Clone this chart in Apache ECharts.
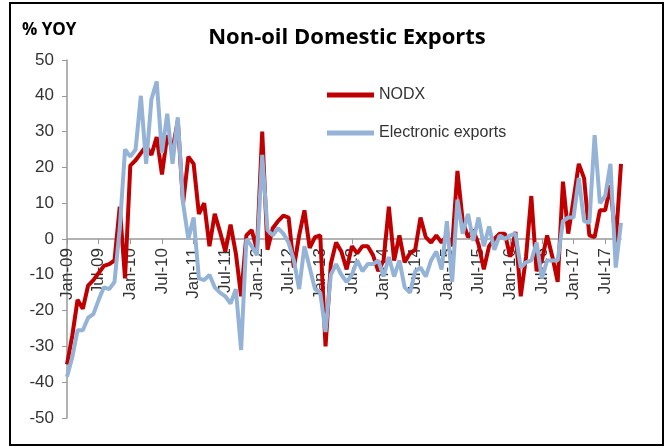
<!DOCTYPE html>
<html>
<head>
<meta charset="utf-8">
<script src="https://cdn.jsdelivr.net/npm/echarts@6/dist/echarts.min.js"></script>
<style>
  html, body { margin: 0; padding: 0; background: #fff; }
  #chart { width: 669px; height: 446px; }
</style>
</head>
<body>
<div id="chart"></div>
<script>
// Monthly year-on-year growth, Jan-09 to Oct-17
const monthNames = ['Jan','Feb','Mar','Apr','May','Jun','Jul','Aug','Sep','Oct','Nov','Dec'];
const firstYear = 2009;
const monthCount = 106;

const nodx = [
  -35, -27, -17, -19.5, -13, -11.5, -9.5, -7.5, -7, -6, 9, -11,
  20.5, 22, 24, 26, 23.5, 28.5, 18, 29, 25, 33, 10, 23,
  21, 7, 10, -2, 7, 2, -3.5, 4, -4, -16, 1, 2.5,
  -3, 30, -3, 3, 5, 6.5, 6, -8, 1, 8, -2.5, 0.5,
  1, -30, -7, -1, -3.5, -8.5, -2, -4, -2, -2, -4.5, -9,
  -6, 9, -6, 1, -6.5, -4, -3, 6, 0.5, -1, 1, -1,
  1, -2, 19, 5, 0.5, 2.5, -1.5, -8.5, -2, 0, 1.5, 1.5,
  -5, 2, -16, -5, 12, -9, -6, 1, -5, -12, 16, 1.5,
  11, 21, 17, 1, 0.5, 8, 8, 15, -1, 21
];

const electronics = [
  -38.5, -33, -25.5, -25.5, -22, -21, -17, -13.5, -14, -12, 3, 25,
  23, 25, 40, 21, 39, 44, 24, 35, 21, 34, 10, 0,
  6, -11, -11.5, -10, -13.5, -15, -16, -18, -14, -31, 0, -2,
  -4.5, 23.5, 2.5, 1, 3, 1.5, -1, -6, -14, -2, -8, -14,
  -15, -26, -10, -7, -10, -12, -10, -6, -9, -7, -7, -6,
  -10.5, -5, -10.5, -6, -13.5, -15, -9, -8, -10.5, -6, -3.5, -8.5,
  5, -12, 11, 1.5, 7, -0.5, 6, -2, 3.5, -3, 1, 0,
  1, 1.5, -8, -6.5, -6, -1, -11, -6, -6, -6, 5, 6,
  6, 17, 5, 4.5, 29, 10, 12, 21, -8, 4.5
];

const yTicks = { min: -50, max: 50, step: 10 };

// Month labels such as "Jan-09"
const categories = [];
for (let i = 0; i < monthCount; i++) {
  const yy = String((firstYear + Math.floor(i / 12)) % 100).padStart(2, '0');
  categories.push(monthNames[i % 12] + '-' + yy);
}

const gridTop = 60;
const gridBottom = 28;
const plotHeight = 446 - gridTop - gridBottom;
// shift the category axis up so it sits on the zero line, labels included
const zeroOffset = -plotHeight * (0 - yTicks.min) / (yTicks.max - yTicks.min);

const chart = echarts.init(document.getElementById('chart'), null, { renderer: 'canvas' });
const axisGray = '#999999';
const textColor = '#333333';

chart.setOption({
  backgroundColor: '#ffffff',
  animation: false,
  grid: { left: 67, right: 48, top: gridTop, bottom: gridBottom, containLabel: false, outerBoundsMode: 'none' },
  graphic: [
    {
      type: 'rect',
      shape: { x: 10, y: 3, width: 653, height: 442 },
      style: { fill: 'none', stroke: '#000', lineWidth: 2 },
      silent: true
    },
    {
      type: 'text',
      x: 347, y: 38,
      style: {
        text: 'Non-oil Domestic Exports',
        font: 'bold 22px "Open Sans", sans-serif',
        fill: '#000',
        textAlign: 'center',
        textVerticalAlign: 'middle'
      }
    },
    {
      type: 'text',
      x: 22, y: 30,
      style: {
        text: '% YOY',
        font: 'bold 17px "Open Sans", sans-serif',
        fill: '#000',
        textAlign: 'left',
        textVerticalAlign: 'middle'
      }
    }
  ],
  legend: {
    orient: 'vertical',
    left: 322,
    top: 82,
    itemWidth: 47,
    itemHeight: 5,
    itemGap: 22,
    icon: 'rect',
    textStyle: { fontFamily: '"Liberation Sans", Arial, sans-serif', fontSize: 16, color: textColor },
    data: ['NODX', 'Electronic exports']
  },
  xAxis: {
    type: 'category',
    data: categories,
    boundaryGap: false,
    offset: zeroOffset,
    axisLine: { onZero: false, lineStyle: { color: axisGray, width: 1.5 } },
    axisTick: { show: true, interval: 5, length: 5, lineStyle: { color: axisGray } },
    axisLabel: {
      interval: 5,
      rotate: 90,
      margin: 9,
      fontFamily: '"Liberation Sans", Arial, sans-serif',
      fontSize: 17,
      color: textColor
    },
    splitLine: { show: false }
  },
  yAxis: {
    type: 'value',
    min: yTicks.min,
    max: yTicks.max,
    interval: yTicks.step,
    axisLine: { show: true, lineStyle: { color: axisGray, width: 1.5 } },
    axisTick: { show: true, length: 5, lineStyle: { color: axisGray } },
    axisLabel: {
      margin: 13,
      fontFamily: '"Liberation Sans", Arial, sans-serif',
      fontSize: 17,
      color: textColor
    },
    splitLine: { show: false }
  },
  series: [
    {
      name: 'NODX',
      type: 'line',
      data: nodx,
      showSymbol: false,
      symbol: 'none',
      lineStyle: { color: '#C00000', width: 4 },
      itemStyle: { color: '#C00000' },
      z: 2
    },
    {
      name: 'Electronic exports',
      type: 'line',
      data: electronics,
      showSymbol: false,
      symbol: 'none',
      lineStyle: { color: '#95B3D7', width: 4 },
      itemStyle: { color: '#95B3D7' },
      z: 3
    }
  ]
});
</script>
</body>
</html>
